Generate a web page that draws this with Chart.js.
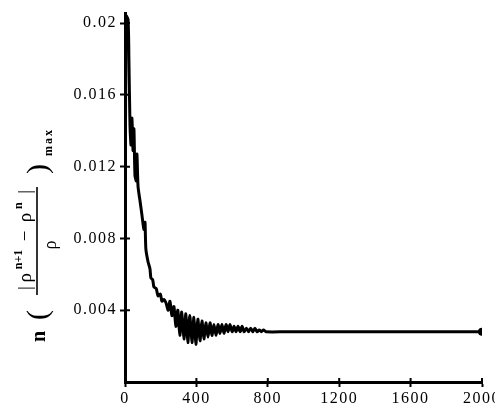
<!DOCTYPE html>
<html>
<head>
<meta charset="utf-8">
<script src="https://cdn.jsdelivr.net/npm/chart.js@4.4.1/dist/chart.umd.min.js"></script>
<style>
	html, body { margin: 0; padding: 0; background: #fff; }
	#wrap { position: relative; width: 495px; height: 410px; }
</style>
</head>
<body>
<div id="wrap"><canvas id="residual"></canvas></div>
<script>
// Max relative density change per iteration, n(|rho^(n+1) - rho^n| / rho)max
var iterations = [
	0, 5, 17, 22, 28, 34, 39, 45, 50, 56,
	64, 67, 73, 84, 95, 106, 112, 117, 129, 140,
	145, 155, 162, 175, 185, 198, 207, 218, 230, 242,
	252, 263, 274, 285, 296, 307, 318, 330, 341, 352,
	363, 375, 386, 397, 408, 420, 431, 442, 453, 465,
	476, 487, 498, 510, 521, 532, 543, 555, 566, 577,
	588, 600, 611, 622, 633, 645, 656, 667, 680, 692,
	704, 716, 728, 740, 752, 764, 776, 790, 900, 1000,
	1150, 1300, 1500, 1700, 1900, 2000
];
var residuals = [
	0, 0.0204, 0.0202, 0.0179, 0.0143, 0.0132, 0.0147, 0.0129, 0.0141, 0.0115,
	0.0112, 0.0127, 0.0109, 0.0101, 0.0093, 0.0085, 0.0089, 0.0074, 0.0067, 0.0063,
	0.0058, 0.0057, 0.0053, 0.0052, 0.0048, 0.0049, 0.0045, 0.0046, 0.0044, 0.0040,
	0.0045, 0.0037, 0.0042, 0.0031, 0.0040, 0.0026, 0.0039, 0.0024, 0.0038, 0.0022,
	0.0037, 0.0022, 0.0036, 0.0021, 0.0035, 0.0023, 0.0034, 0.0024, 0.0033, 0.0025,
	0.0033, 0.0026, 0.0032, 0.0026, 0.0032, 0.0027, 0.0032, 0.0027, 0.0032, 0.0028,
	0.0032, 0.0028, 0.0031, 0.0028, 0.0031, 0.0028, 0.0031, 0.0028, 0.0030, 0.0028,
	0.0030, 0.0028, 0.0030, 0.0028, 0.0029, 0.0028, 0.0029, 0.0028, 0.0028, 0.0028,
	0.0028, 0.0028, 0.0028, 0.0028, 0.0028, 0.0028
];
var xTicks = [0, 400, 800, 1200, 1600, 2000];
var yTicks = [0.004, 0.008, 0.012, 0.016, 0.02];

var points = [];
for (var i = 0; i < iterations.length; i++) {
	points.push({ x: iterations[i], y: residuals[i] });
}

var SERIF = "'Liberation Serif', 'DejaVu Serif', serif";

// small tick marks that cross the axes (the outward half comes from the grid)
var crossTicks = {
	id: "crossTicks",
	beforeLayout: function(chart) { chart.ctx.letterSpacing = "1.5px"; },
	beforeDraw: function(chart) { chart.ctx.letterSpacing = "1.5px"; },
	afterDraw: function(chart) {
		var ctx = chart.ctx;
		var xs = chart.scales.x, ys = chart.scales.y;
		var area = chart.chartArea;
		ctx.save();
		ctx.strokeStyle = "#000";
		ctx.lineWidth = 2;
		ctx.beginPath();
		for (var i = 0; i < yTicks.length; i++) {
			var py = ys.getPixelForValue(yTicks[i]);
			ctx.moveTo(area.left, py);
			ctx.lineTo(area.left + 5, py);
		}
		for (var j = 1; j < xTicks.length; j++) {
			var px = xs.getPixelForValue(xTicks[j]);
			ctx.moveTo(px, area.bottom);
			ctx.lineTo(px, area.bottom - 4);
		}
		ctx.stroke();
		ctx.restore();
	}
};

// rotated y-axis title with the fraction
var fractionTitle = {
	id: "fractionTitle",
	afterDraw: function(chart) {
		var ctx = chart.ctx;
		ctx.save();
		ctx.letterSpacing = "0px";
		ctx.translate(37, 240);
		ctx.rotate(-Math.PI / 2);
		ctx.fillStyle = "#000";
		ctx.strokeStyle = "#000";
		ctx.textBaseline = "alphabetic";

		// numerator |rho^(n+1) - rho^n|
		var parts = [
			{ t: "|", s: 19, dy: 0 },
			{ t: "ρ", s: 19, dy: 0 },
			{ t: "n+1", s: 12, dy: -9, b: true },
			{ t: " − ", s: 19, dy: 0 },
			{ t: "ρ", s: 19, dy: 0 },
			{ t: "n", s: 12, dy: -9, b: true },
			{ t: " |", s: 19, dy: 0 }
		];
		var total = 0;
		for (var i = 0; i < parts.length; i++) {
			ctx.font = (parts[i].b ? "bold " : "") + parts[i].s + "px " + SERIF;
			parts[i].w = ctx.measureText(parts[i].t).width;
			total += parts[i].w;
		}
		var gap = (100 - total) / (parts.length - 1);
		if (gap < 0) gap = 0;
		var x = -50;
		for (var k = 0; k < parts.length; k++) {
			ctx.font = (parts[k].b ? "bold " : "") + parts[k].s + "px " + SERIF;
			ctx.fillText(parts[k].t, x, -6 + parts[k].dy);
			x += parts[k].w + gap;
		}

		// fraction bar
		ctx.lineWidth = 1.6;
		ctx.beginPath();
		ctx.moveTo(-55, 0);
		ctx.lineTo(53, 0);
		ctx.stroke();

		// denominator
		ctx.font = "18px " + SERIF;
		ctx.textAlign = "center";
		ctx.fillText("ρ", -5, 19);

		// n( ... )max
		ctx.textAlign = "left";
		ctx.font = "bold 20px " + SERIF;
		ctx.fillText("n", -102, 8);
		ctx.font = "30px " + SERIF;
		ctx.fillText("(", -80, 10);
		ctx.fillText(")", 66, 10);
		ctx.font = "bold 12px " + SERIF;
		ctx.letterSpacing = "2px";
		ctx.fillText("max", 84, 15);
		ctx.restore();
	}
};

new Chart(document.getElementById("residual"), {
	type: "line",
	data: {
		datasets: [{
			data: points,
			borderColor: "#000",
			backgroundColor: "#000",
			borderWidth: 3,
			tension: 0.25,
			pointRadius: function(c) { return c.dataIndex === points.length - 1 ? 2.5 : 0; },
			pointHoverRadius: 0,
			fill: false
		}]
	},
	options: {
		responsive: true,
		maintainAspectRatio: false,
		animation: false,
		layout: { padding: { top: 13, right: 13, left: 0, bottom: 0 } },
		plugins: {
			legend: { display: false },
			tooltip: { enabled: false }
		},
		scales: {
			x: {
				type: "linear",
				min: 0,
				max: 2000,
				afterBuildTicks: function(axis) {
					axis.ticks = xTicks.map(function(v) { return { value: v }; });
				},
				afterFit: function(axis) {
					axis.height = 28;
					axis.paddingRight = 0;
					axis.paddingLeft = 0;
				},
				ticks: {
					color: "#000",
					padding: 2,
					maxRotation: 0,
					autoSkip: false,
					font: { family: SERIF, size: 16 },
					callback: function(v) { return String(v); }
				},
				grid: { drawOnChartArea: false, tickLength: 5, tickWidth: 2, tickColor: "#000" },
				border: { color: "#000", width: 3 }
			},
			y: {
				type: "linear",
				min: 0,
				max: 0.02056,
				afterBuildTicks: function(axis) {
					axis.ticks = yTicks.map(function(v) { return { value: v }; });
				},
				afterFit: function(axis) {
					axis.width = 125;
				},
				ticks: {
					color: "#000",
					padding: 3,
					font: { family: SERIF, size: 16 },
					callback: function(v) { return String(+v.toFixed(3)); }
				},
				grid: { drawOnChartArea: false, tickLength: 5, tickWidth: 2, tickColor: "#000" },
				border: { color: "#000", width: 3 }
			}
		}
	},
	plugins: [crossTicks, fractionTitle]
});
</script>
</body>
</html>
